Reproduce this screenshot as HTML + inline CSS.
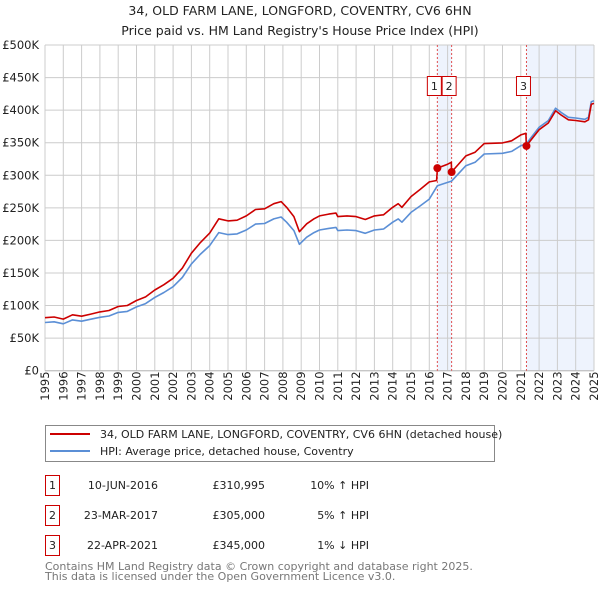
<!DOCTYPE html>
<html><head><meta charset="utf-8"><style>
body{margin:0;background:#fff;font-family:"DejaVu Sans","Liberation Sans",sans-serif;}
svg text{font-family:"DejaVu Sans","Liberation Sans",sans-serif;}
</style></head><body>
<svg id="chart" width="600" height="590" xmlns="http://www.w3.org/2000/svg" style="position:absolute;left:0;top:0">
<text x="300" y="15" text-anchor="middle" font-size="12.5" fill="#222">34, OLD FARM LANE, LONGFORD, COVENTRY, CV6 6HN</text>
<text x="300" y="35" text-anchor="middle" font-size="12.5" fill="#222">Price paid vs. HM Land Registry's House Price Index (HPI)</text>
<g id="plot"></g>
<g>
<rect x="45.5" y="425.5" width="449" height="36" fill="#fff" stroke="#888"/>
<line x1="50" y1="434" x2="90" y2="434" stroke="#cc0000" stroke-width="2"/>
<text x="100" y="438" font-size="11" fill="#222">34, OLD FARM LANE, LONGFORD, COVENTRY, CV6 6HN (detached house)</text>
<line x1="50" y1="451" x2="90" y2="451" stroke="#5b8fd6" stroke-width="2"/>
<text x="100" y="455" font-size="11" fill="#222">HPI: Average price, detached house, Coventry</text>
</g>
<g font-size="11" fill="#222">
<rect x="45.5" y="475.5" width="14" height="20" fill="#fff" stroke="#cc0000"/>
<text x="52.5" y="489" text-anchor="middle">1</text>
<text x="158" y="489" text-anchor="end">10-JUN-2016</text>
<text x="265" y="489" text-anchor="end">£310,995</text>
<text x="369" y="489" text-anchor="end">10% ↑ HPI</text>
<rect x="45.5" y="505.5" width="14" height="20" fill="#fff" stroke="#cc0000"/>
<text x="52.5" y="519" text-anchor="middle">2</text>
<text x="158" y="519" text-anchor="end">23-MAR-2017</text>
<text x="265" y="519" text-anchor="end">£305,000</text>
<text x="369" y="519" text-anchor="end">5% ↑ HPI</text>
<rect x="45.5" y="535.5" width="14" height="20" fill="#fff" stroke="#cc0000"/>
<text x="52.5" y="549" text-anchor="middle">3</text>
<text x="158" y="549" text-anchor="end">22-APR-2021</text>
<text x="265" y="549" text-anchor="end">£345,000</text>
<text x="369" y="549" text-anchor="end">1% ↓ HPI</text>
</g>
<text x="45" y="570" font-size="11" fill="#777">Contains HM Land Registry data © Crown copyright and database right 2025.</text>
<text x="45" y="580" font-size="11" fill="#777">This data is licensed under the Open Government Licence v3.0.</text>
</svg>
<script>
const years=[1995,1996,1997,1998,1999,2000,2001,2002,2003,2004,2005,2006,2007,2008,2009,2010,2011,2012,2013,2014,2015,2016,2017,2018,2019,2020,2021,2022,2023,2024,2025];
const yTicks=[0,50,100,150,200,250,300,350,400,450,500];
const yTickLabels=["£0","£50K","£100K","£150K","£200K","£250K","£300K","£350K","£400K","£450K","£500K"];
const hpiDates=[1995.0,1995.5,1996.0,1996.5,1997.0,1997.5,1998.0,1998.5,1999.0,1999.5,2000.0,2000.5,2001.0,2001.5,2002.0,2002.5,2003.0,2003.5,2004.0,2004.5,2005.0,2005.5,2006.0,2006.5,2007.0,2007.5,2007.9,2008.2,2008.6,2008.9,2009.3,2009.7,2010.0,2010.5,2010.9,2011.0,2011.5,2012.0,2012.5,2013.0,2013.5,2014.0,2014.3,2014.5,2015.0,2015.5,2016.0,2016.44,2017.0,2017.22,2018.0,2018.5,2019.0,2020.0,2020.5,2021.0,2021.3,2021.5,2022.0,2022.5,2022.9,2023.2,2023.6,2024.0,2024.5,2024.7,2024.85,2025.0];
const hpiValues=[74,75,72,78,76,79,82,84,89.5,91,98,103,112.6,120,129,143,164,179,192,212,209,210,216,225,226,233,236,228,215,194,205,212,216,218.5,220,215,216,215,211,216,217.5,228,233,228,243,253,263.5,284,289,291,314.7,320,332.6,333.7,336.7,345.4,348,355.7,373.6,384,403,396.6,389,388,386,389,413,414.5];
const priceDates=[1995.0,1995.5,1996.0,1996.5,1997.0,1997.5,1998.0,1998.5,1999.0,1999.5,2000.0,2000.5,2001.0,2001.5,2002.0,2002.5,2003.0,2003.5,2004.0,2004.5,2005.0,2005.5,2006.0,2006.5,2007.0,2007.5,2007.9,2008.2,2008.6,2008.9,2009.3,2009.7,2010.0,2010.5,2010.9,2011.0,2011.5,2012.0,2012.5,2013.0,2013.5,2014.0,2014.3,2014.5,2015.0,2015.5,2016.0,2016.4,2016.44,2017.0,2017.2,2017.22,2018.0,2018.5,2019.0,2020.0,2020.5,2021.0,2021.28,2021.3,2021.5,2022.0,2022.5,2022.9,2023.2,2023.6,2024.0,2024.5,2024.7,2024.85,2025.0];
const priceValues=[81.4,82.5,79.2,85.8,83.6,86.9,90.2,92.4,98.5,100.1,107.8,113.3,123.9,132,141.9,157.3,180.4,196.9,211.2,233.2,229.9,231,237.6,247.5,248.6,256.3,259.6,250.8,236.5,213.4,225.5,233.2,237.6,240.4,242,236.5,237.6,236.5,232.1,237.6,239.3,250.8,256.3,250.8,267.3,278.3,289.9,292,311,317,320,305,329.8,335.4,348.6,349.7,352.9,362,364.5,345,352.1,369.9,380.2,399,392.6,385.1,384.1,382.1,385.1,408.9,410.4];
const saleDates=[2016.44,2017.22,2021.31];
const saleValues=[310.995,305,345];
const saleLabels=["1","2","3"];

const X0=45,X1=594,Y0=370.7,Y1=45;
const xs=d=>X0+(d-1995)/(2025-1995)*(X1-X0);
const ys=v=>Y0-v/500*(Y0-Y1);
const NS="http://www.w3.org/2000/svg";
const plot=document.getElementById('plot');
function mk(t,a,p){const e=document.createElementNS(NS,t);for(const k in a)e.setAttribute(k,a[k]);(p||plot).appendChild(e);return e;}

let sh1=mk('rect',{x:xs(saleDates[0]),y:Y1,width:xs(saleDates[1])-xs(saleDates[0]),height:Y0-Y1,fill:'#eef3fd'});


let sh2=mk('rect',{x:xs(saleDates[2]),y:Y1,width:X1-xs(saleDates[2]),height:Y0-Y1,fill:'#eef3fd'});



years.forEach((y,i)=>{
  const x=xs(y);
  const g=mk('line',{x1:x,y1:Y1,x2:x,y2:Y0,stroke:'#cccccc','stroke-width':1});
  
  
  const t=mk('text',{x:0,y:0,transform:`translate(${x+4},${Y0+30}) rotate(-90)`,'font-size':11.5,fill:'#222'});
  t.textContent=y;
  
  
});
yTicks.forEach((v,i)=>{
  const y=ys(v);
  const g=mk('line',{x1:X0,y1:y,x2:X1,y2:y,stroke:'#cccccc','stroke-width':1});
  
  
  const t=mk('text',{x:X0-6,y:y+4,'text-anchor':'end','font-size':11.5,fill:'#222'});
  t.textContent=yTickLabels[i];
  
  
});
const ax=mk('line',{x1:X0,y1:Y0,x2:X1,y2:Y0,stroke:'#bbb'});



saleDates.forEach((d,i)=>{
  const l=mk('line',{x1:xs(d),y1:Y1,x2:xs(d),y2:Y0,stroke:'#e05050','stroke-width':1,'stroke-dasharray':'2,2'});
  
  
});

function line(dates,vals,color,name){
  const p=mk('polyline',{points:dates.map((d,i)=>xs(d).toFixed(1)+','+ys(vals[i]).toFixed(1)).join(' '),fill:'none',stroke:color,'stroke-width':1.6,'stroke-linejoin':'round'});
  
  
}
line(hpiDates,hpiValues,'#5b8fd6','hpi-line');
line(priceDates,priceValues,'#cc0000','price-line');

const boxOff=[-3,-2.5,-3];
saleDates.forEach((d,i)=>{
  const c=mk('circle',{cx:xs(d),cy:ys(saleValues[i]),r:4,fill:'#cc0000'});
  
  
  const bx=xs(d)+boxOff[i]-7;
  const b=mk('rect',{x:bx,y:76.5,width:14,height:19,fill:'#fff',stroke:'#cc0000'});
  
  
  const t=mk('text',{x:bx+7,y:90,'text-anchor':'middle','font-size':11,fill:'#222'});
  t.textContent=saleLabels[i];
  
  
});
</script>
</body></html>
